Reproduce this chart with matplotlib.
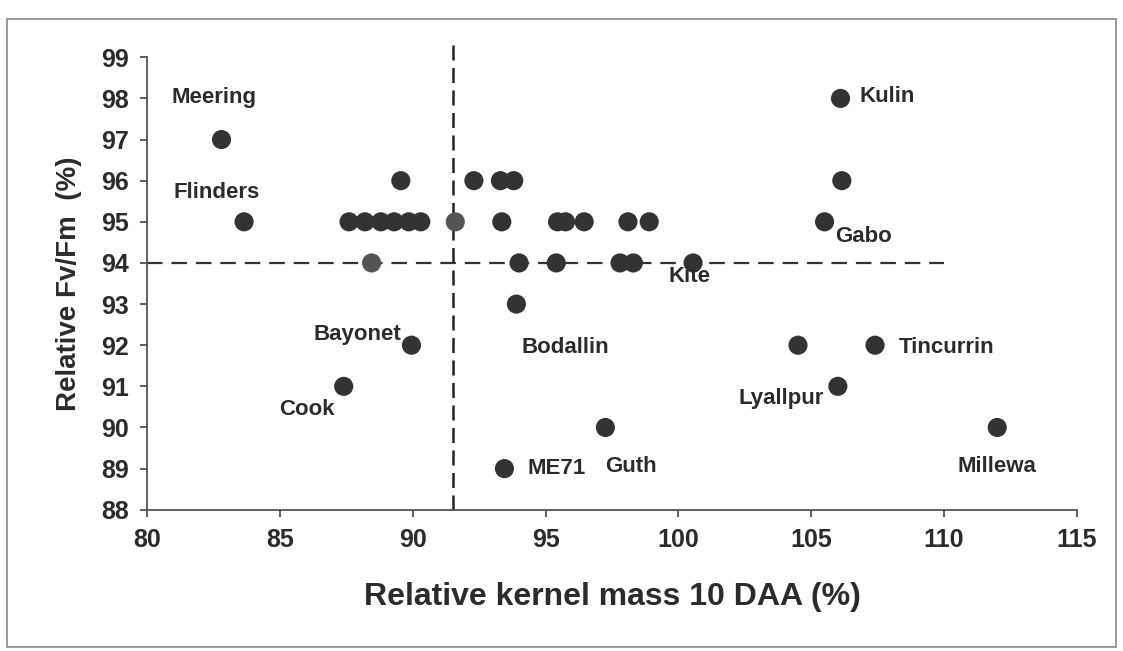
import matplotlib
matplotlib.use("Agg")
import matplotlib.pyplot as plt
from matplotlib.patches import Rectangle

plt.rcParams['font.family'] = ['Liberation Sans', 'DejaVu Sans']
plt.rcParams['font.weight'] = 'bold'

# Data: relative kernel mass 10 DAA (%) vs relative Fv/Fm (%)
kernel_mass = [82.8, 83.65, 87.6, 88.2, 88.8, 89.3, 89.85, 90.3, 89.55, 88.45, 91.6,
               92.3, 93.3, 93.8, 93.35, 95.45, 95.75, 96.45, 98.1, 98.9,
               94.0, 95.4, 97.8, 98.3, 100.55, 93.9, 89.95, 87.4, 93.45, 97.25,
               106.1, 106.15, 105.5, 104.5, 107.4, 106.0, 112.0]
fv_fm = [97, 95, 95, 95, 95, 95, 95, 95, 96, 94, 95,
         96, 96, 96, 95, 95, 95, 95, 95, 95,
         94, 94, 94, 94, 94, 93, 92, 91, 89, 90,
         98, 96, 95, 92, 92, 91, 90]
grey_points = [9, 10]  # indices drawn in lighter grey

cultivars = ['Meering', 'Flinders', 'Kulin', 'Gabo', 'Kite', 'Bodallin', 'Bayonet',
             'Cook', 'ME71', 'Guth', 'Tincurrin', 'Lyallpur', 'Millewa']
label_x = [82.5, 82.6, 106.8, 105.9, 100.4, 95.75, 89.55, 86.0, 94.3, 98.2, 108.3, 103.85, 112.0]
label_y = [98.03, 95.72, 98.05, 94.65, 93.66, 91.95, 92.25, 90.43, 89.0, 89.05, 91.95, 90.7, 89.05]
label_ha = ['center', 'center', 'left', 'left', 'center', 'center', 'right',
            'center', 'left', 'center', 'left', 'center', 'center']

threshold_x = 91.5
threshold_y = 94

fig = plt.figure(figsize=(11.23, 6.51), dpi=100)
ax = fig.add_axes([0.131, 0.217, 0.828, 0.695])

# reference lines
ax.plot([threshold_x, threshold_x], [88, 99.3], ls=(0, (6, 3)), color='#222222', lw=1.8,
        clip_on=False, zorder=1)
ax.plot([80, 110], [threshold_y, threshold_y], ls=(0, (7, 4)), color='#333333', lw=1.6,
        zorder=1)

colors = ['#555555' if i in grey_points else '#333333' for i in range(len(kernel_mass))]
ax.scatter(kernel_mass, fv_fm, s=190, c=colors, edgecolors='none', zorder=3)

for name, lx, ly, ha in zip(cultivars, label_x, label_y, label_ha):
    ax.text(lx, ly, name, ha=ha, va='center', fontsize=16, fontweight='bold', color='#2b2b2b')

ax.set_xlim(80, 115)
ax.set_ylim(88, 99)
ax.set_xticks(range(80, 116, 5))
ax.set_yticks(range(88, 100))
ax.tick_params(axis='both', direction='out', length=5, width=1.2, colors='#444444',
               labelsize=18, labelcolor='#2b2b2b', pad=8)
for lab in ax.get_xticklabels() + ax.get_yticklabels():
    lab.set_fontweight('bold')

for side in ['top', 'right']:
    ax.spines[side].set_visible(False)
for side in ['left', 'bottom']:
    ax.spines[side].set_color('#555555')
    ax.spines[side].set_linewidth(1.3)

ax.set_xlabel('Relative kernel mass 10 DAA (%)', fontsize=23, fontweight='bold',
              color='#2b2b2b', labelpad=22)
ax.set_ylabel('Relative Fv/Fm  (%)', fontsize=20, fontweight='bold', color='#2b2b2b',
              labelpad=14)

fig.patches.append(Rectangle((0.006, 0.006), 0.988, 0.965, transform=fig.transFigure,
                             fill=False, edgecolor='#888888', lw=1.2))

fig.savefig('out.png', dpi=100, facecolor='white')
